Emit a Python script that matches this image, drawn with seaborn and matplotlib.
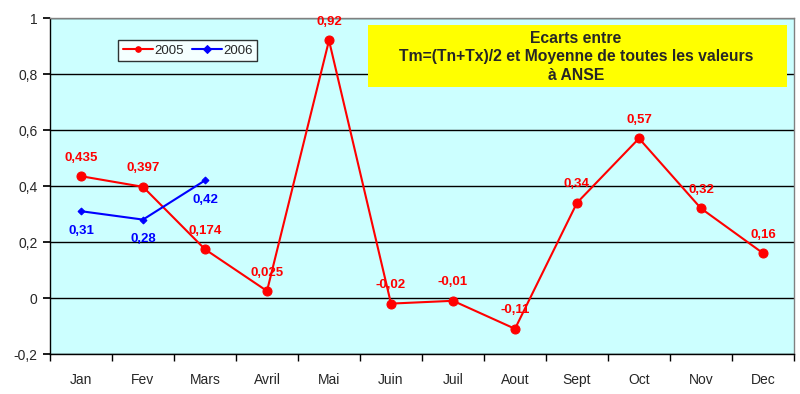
import numpy as np
import pandas as pd
import matplotlib
matplotlib.use("Agg")
import matplotlib.pyplot as plt
from matplotlib.ticker import FixedLocator
from matplotlib.patches import Rectangle
import seaborn as sns

# data
months = ["Jan", "Fev", "Mars", "Avril", "Mai", "Juin", "Juil", "Aout",
          "Sept", "Oct", "Nov", "Dec"]
ecarts_2005 = [0.435, 0.397, 0.174, 0.025, 0.92, -0.02, -0.01, -0.11,
               0.34, 0.57, 0.32, 0.16]
ecarts_2006 = [0.31, 0.28, 0.42]
y_ticks = [-0.2, 0, 0.2, 0.4, 0.6, 0.8, 1]

title_text = "Ecarts entre\nTm=(Tn+Tx)/2 et Moyenne de toutes les valeurs\nà ANSE"


def fr(v):
    # french decimal comma
    s = f"{v:g}"
    return s.replace(".", ",")


sns.set_theme(style="white")
plt.rcParams["font.family"] = ["Liberation Sans", "DejaVu Sans"]

df05 = pd.DataFrame({"mois": months, "ecart": ecarts_2005})
df06 = pd.DataFrame({"mois": months[:len(ecarts_2006)], "ecart": ecarts_2006})

fig = plt.figure(figsize=(8, 3.94), dpi=100)
fig.patch.set_facecolor("white")
ax = fig.add_axes([50 / 800, 40 / 394, 744 / 800, 336 / 394])
ax.set_facecolor("#CCFFFF")

sns.lineplot(data=df05, x="mois", y="ecart", ax=ax, color="#FF0000",
             marker="o", markersize=6.5, markeredgecolor="#FF0000",
             linewidth=1.5, label="2005", sort=False)
sns.lineplot(data=df06, x="mois", y="ecart", ax=ax, color="#0000FF",
             marker="D", markersize=3.5, markeredgecolor="#0000FF",
             linewidth=1.5, label="2006", sort=False)

# data labels
for i, v in enumerate(ecarts_2005):
    ax.annotate(fr(v), (i, v), xytext=(0, 9), textcoords="offset points",
                ha="center", va="bottom", color="#FF0000",
                fontsize=9.5, fontweight="bold")
for i, v in enumerate(ecarts_2006):
    ax.annotate(fr(v), (i, v), xytext=(0, -10), textcoords="offset points",
                ha="center", va="top", color="#0000FF",
                fontsize=9.5, fontweight="bold")

ax.set_xlim(-0.5, len(months) - 0.5)
ax.set_ylim(-0.2, 1)
ax.set_yticks(y_ticks)
ax.set_yticklabels([fr(t) for t in y_ticks], fontsize=10)
ax.set_xticks(range(len(months)))
ax.set_xticklabels(months, fontsize=10)
ax.xaxis.set_minor_locator(FixedLocator(np.arange(-0.5, len(months), 1)))
ax.tick_params(axis="x", which="major", length=0, pad=14)
ax.tick_params(axis="x", which="minor", length=5, direction="out", color="black", bottom=True)
ax.tick_params(axis="y", length=5, direction="out", color="black", left=True, pad=4)
ax.set_xlabel("")
ax.set_ylabel("")

ax.grid(axis="y", color="black", linewidth=1)
ax.grid(axis="x", visible=False)
ax.set_axisbelow(True)
for side in ["top", "right"]:
    ax.spines[side].set_color("#808080")
    ax.spines[side].set_linewidth(1)
for side in ["left", "bottom"]:
    ax.spines[side].set_color("black")
    ax.spines[side].set_linewidth(1)

leg = ax.legend(loc="upper left", bbox_to_anchor=(68 / 744, 1 - 22 / 336),
                ncol=2, frameon=True, fancybox=False, fontsize=9.5,
                handlelength=2.3, handletextpad=0.1, columnspacing=0.6,
                borderpad=0.35, borderaxespad=0)
leg.get_frame().set_edgecolor("black")
leg.get_frame().set_facecolor("white")
leg.get_frame().set_linewidth(1)
for h in leg.legend_handles:
    h.set_markersize(4)

# yellow title box
fig.patches.append(Rectangle((368 / 800, 1 - 87 / 394), 419 / 800, 62 / 394,
                             transform=fig.transFigure, facecolor="#FFFF00",
                             edgecolor="none", zorder=5))
fig.text(576 / 800, 1 - 57 / 394, title_text, ha="center", va="center",
         fontsize=11.3, fontweight="bold", linespacing=1.3, zorder=6)

fig.savefig("out.png", dpi=100, facecolor="white")
